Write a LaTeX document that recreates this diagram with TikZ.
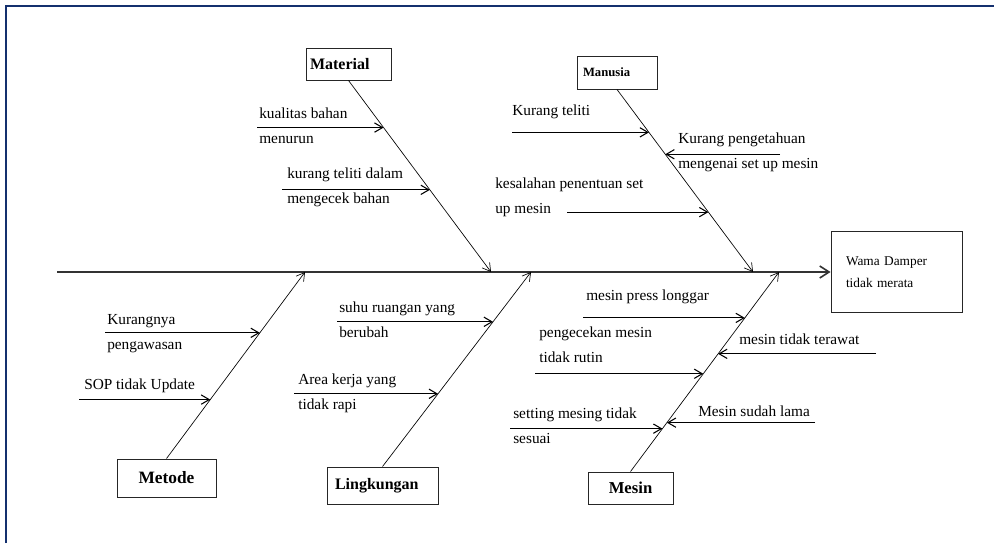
\documentclass[tikz,border=0pt]{standalone}
\usepackage{fontspec}
\setmainfont{Liberation Serif}
\usetikzlibrary{arrows.meta, calc}
\definecolor{framecolor}{HTML}{14306E}
\definecolor{spinecolor}{HTML}{333333}

\begin{document}
\begin{tikzpicture}[x=0.75pt, y=-0.75pt,
    catbox/.style={draw=black!85, line width=0.7pt, inner ysep=0pt,
                   font=\bfseries\fontsize{12}{14}\selectfont},
    cause/.style={anchor=west, inner sep=0pt, align=left,
                  font=\fontsize{11.5}{18.5}\selectfont},
    bone/.style={line width=0.5pt, -{Straight Barb[length=6pt, width=7pt]}},
    carr/.style={line width=0.8pt, -{Straight Barb[length=6pt, width=7pt]}},
    spine/.style={line width=1.2pt, draw=spinecolor,
                  -{Straight Barb[length=7pt, width=9pt]}}
]
    \useasboundingbox (0,0) rectangle (994,543);
    \draw[framecolor, line width=1.6pt] (5.7,543) -- (5.7,6.3) -- (994,6.3);

    % effect and spine
    \node[draw=black!85, line width=0.7pt, minimum height=60.75pt,
          text width=75.75pt, inner xsep=11.25pt, align=left,
          font=\fontsize{10}{16.5}\selectfont]
          (effect) at (896.5,272) {Wama Damper\\tidak merata};
    \coordinate (tail) at (57,272);
    \draw[spine] (tail) -- (effect.west);

    % category boxes
    \node[catbox, text width=57.75pt, inner xsep=3pt, align=left,
          minimum height=24pt] (material) at (348.5,64) {Material};
    \node[catbox, text width=51pt, inner xsep=4.5pt, align=left,
          minimum height=24.75pt, font=\bfseries\fontsize{9.5}{12}\selectfont]
          (manusia) at (617,72.5) {Manusia};
    \node[catbox, minimum width=74.25pt, minimum height=28.5pt,
          font=\bfseries\fontsize{13}{15}\selectfont]
          (metode) at (166.5,478) {Metode};
    \node[catbox, text width=71.25pt, inner xsep=6pt, align=left,
          minimum height=27.75pt] (lingkungan) at (382.5,485.5) {Lingkungan};
    \node[catbox, minimum width=63.75pt, minimum height=24pt,
          font=\bfseries\fontsize{12.5}{15}\selectfont]
          (mesin) at (630.5,488) {Mesin};

    % bones
    \coordinate (mattip) at (491,272);
    \coordinate (mantip) at (753,272);
    \coordinate (mettip) at (305,272);
    \coordinate (lingtip) at (531,272);
    \coordinate (mestip) at (779,272);
    \draw[bone] (material.south) -- (mattip);
    \draw[bone] (manusia.south) -- (mantip);
    \draw[bone] (metode.north) -- (mettip);
    \draw[bone] (lingkungan.north) -- (lingtip);
    \draw[bone] (mesin.north) -- (mestip);

    % Material
    \coordinate (ma1) at ($(material.south)!0.246!(mattip)$);
    \coordinate (ma2) at ($(material.south)!0.571!(mattip)$);
    \node[cause] (kualitas) at (259,126) {kualitas bahan\\menurun};
    \node[cause] (mengecek) at (287,187) {kurang teliti dalam\\mengecek bahan};
    \draw[carr] (257,0 |- ma1) -- (ma1);
    \draw[carr] (282,0 |- ma2) -- (ma2);

    % Manusia
    \coordinate (mn1) at ($(manusia.south)!0.235!(mantip)$);
    \coordinate (mn2) at ($(manusia.south)!0.355!(mantip)$);
    \coordinate (mn3) at ($(manusia.south)!0.672!(mantip)$);
    \node[cause] (teliti) at (512,112) {Kurang teliti};
    \node[cause] (pengetahuan) at (678,152) {Kurang pengetahuan\\mengenai set up mesin};
    \node[cause] (penentuan) at (495,197) {kesalahan penentuan set\\up mesin};
    \draw[carr] (512,0 |- mn1) -- (mn1);
    \draw[carr] (780,0 |- mn2) -- (mn2);
    \draw[carr] (567,0 |- mn3) -- (mn3);

    % Metode
    \coordinate (me1) at ($(metode.north)!0.674!(mettip)$);
    \coordinate (me2) at ($(metode.north)!0.316!(mettip)$);
    \node[cause] (pengawasan) at (107,333.5) {Kurangnya\\pengawasan};
    \node[cause] (sop) at (84,386) {SOP tidak Update};
    \draw[carr] (105,0 |- me1) -- (me1);
    \draw[carr] (79,0 |- me2) -- (me2);

    % Lingkungan
    \coordinate (li1) at ($(lingkungan.north)!0.744!(lingtip)$);
    \coordinate (li2) at ($(lingkungan.north)!0.374!(lingtip)$);
    \node[cause] (suhu) at (339,320) {suhu ruangan yang\\berubah};
    \node[cause] (area) at (298,393.5) {Area kerja yang\\tidak rapi};
    \draw[carr] (337,0 |- li1) -- (li1);
    \draw[carr] (294,0 |- li2) -- (li2);

    % Mesin
    \coordinate (ms1) at ($(mesin.north)!0.77!(mestip)$);
    \coordinate (ms2) at ($(mesin.north)!0.59!(mestip)$);
    \coordinate (ms3) at ($(mesin.north)!0.49!(mestip)$);
    \coordinate (ms4) at ($(mesin.north)!0.245!(mestip)$);
    \coordinate (ms5) at ($(mesin.north)!0.215!(mestip)$);
    \node[cause] (press) at (586,297) {mesin press longgar};
    \node[cause] (terawat) at (739,339) {mesin tidak terawat};
    \node[cause] (rutin) at (539,345) {pengecekan mesin\\tidak rutin};
    \node[cause] (lama) at (698,411) {Mesin sudah lama};
    \node[cause] (setting) at (513,425.5) {setting mesing tidak\\sesuai};
    \draw[carr] (583,0 |- ms1) -- (ms1);
    \draw[carr] (876,0 |- ms2) -- (ms2);
    \draw[carr] (535,0 |- ms3) -- (ms3);
    \draw[carr] (815,0 |- ms4) -- (ms4);
    \draw[carr] (510,0 |- ms5) -- (ms5);
\end{tikzpicture}
\end{document}
